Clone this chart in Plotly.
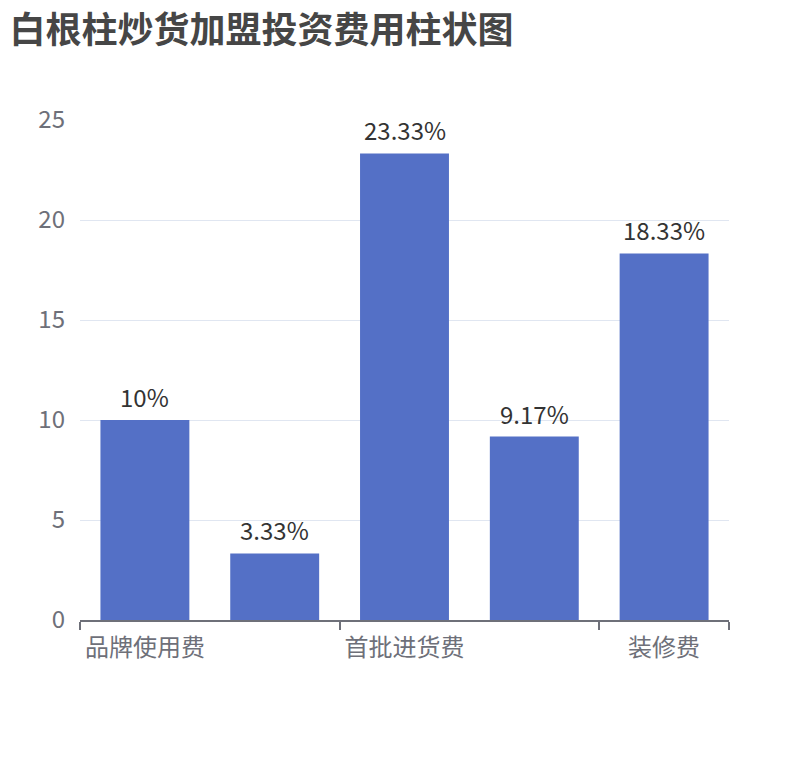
import plotly.graph_objects as go

# 加盟费用分类（第2、4类的轴标签在原图中被隐藏）
categories = ['品牌使用费', '加盟保证金', '首批进货费', '设备费', '装修费']
values = [10, 3.33, 23.33, 9.17, 18.33]
labels = ['10%', '3.33%', '23.33%', '9.17%', '18.33%']

x_pos = list(range(len(categories)))
shown_ticks = x_pos[::2]
boundaries = [i - 0.5 for i in x_pos[::2]] + [len(categories) - 0.5]

font_cn = 'Noto Sans CJK SC, Microsoft YaHei, sans-serif'

fig = go.Figure()
fig.add_trace(go.Bar(
    x=x_pos, y=values, width=0.685,
    marker=dict(color='#5470c6', line=dict(width=0)),
    hovertext=categories,
))

for x, v, t in zip(x_pos, values, labels):
    fig.add_annotation(x=x, y=v, text=t, showarrow=False,
                       yanchor='bottom', yshift=4,
                       font=dict(size=24, color='#333333', family=font_cn))

# 页面 body 自带 8px 边距，边距值相应减去
fig.update_layout(
    width=810, height=760,
    margin=dict(l=72, r=89, t=112, b=148),
    paper_bgcolor='white', plot_bgcolor='white',
    showlegend=False,
    font=dict(family=font_cn),
    title=dict(text='<b>白根柱炒货加盟投资费用柱状图</b>',
               x=0.002, xanchor='left', xref='container',
               y=1, yanchor='top', yref='container',
               pad=dict(t=10, l=0),
               font=dict(size=36, color='#464646', family=font_cn)),
)

fig.update_xaxes(
    range=[-0.5, len(categories) - 0.5],
    tickmode='array', tickvals=shown_ticks,
    ticktext=[categories[i] for i in shown_ticks],
    ticks='', ticklabelstandoff=5,
    tickfont=dict(size=24, color='#6e7079'),
    showline=True, linecolor='#6e7079', linewidth=1.5,
    showgrid=False, zeroline=False,
    minor=dict(tickmode='array', tickvals=boundaries, ticks='outside',
               ticklen=8, tickwidth=1.5, tickcolor='#6e7079', showgrid=False),
)

fig.update_yaxes(
    range=[0, 25], dtick=5,
    showline=False, zeroline=False,
    gridcolor='#e0e6f1', gridwidth=1.2,
    tickfont=dict(size=24, color='#6e7079'),
    ticklabelstandoff=14,
)

fig.write_html('out.html')
